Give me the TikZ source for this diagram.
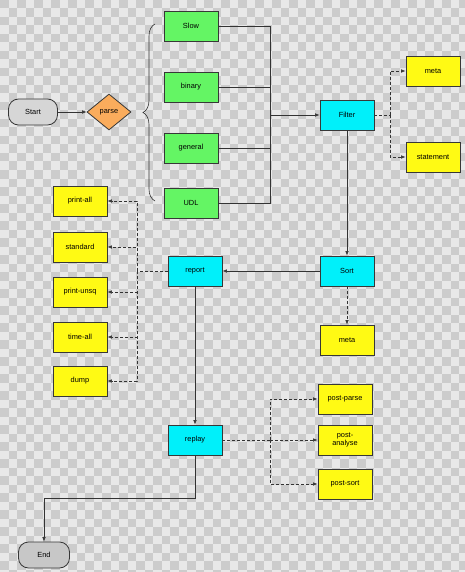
\documentclass[tikz,border=0pt]{standalone}
\usepackage{fontspec}
\setmainfont{Liberation Sans}
\usetikzlibrary{arrows.meta,shapes.geometric,decorations.pathreplacing}
\definecolor{boxgreen}{RGB}{100,245,100}
\definecolor{boxcyan}{RGB}{0,240,250}
\definecolor{boxyellow}{RGB}{255,250,20}
\definecolor{boxorange}{RGB}{250,172,92}
\definecolor{chklight}{RGB}{232,232,232}
\definecolor{chkdark}{RGB}{204,204,204}
\definecolor{edge}{RGB}{55,55,55}
\tikzset{
  box/.style={draw=edge,line width=0.8pt,minimum width=54pt,minimum height=30pt,
    inner sep=0pt,font=\fontsize{7.4}{8.4}\selectfont,align=center},
  greenbox/.style={box,fill=boxgreen},
  cyanbox/.style={box,fill=boxcyan},
  yellowbox/.style={box,fill=boxyellow},
  terminal/.style={box,rounded corners=10pt,minimum height=26pt},
  link/.style={draw=black!80,line width=0.6pt},
  arr/.style={-{Latex[length=4.5pt,width=3.5pt]}},
  dsh/.style={dash pattern=on 3pt off 2pt}
}
\begin{document}
\begin{tikzpicture}[x=1pt,y=-1pt]
  \useasboundingbox (0,0) rectangle (465,572);
  % background checkers
  \fill[chklight] (0,0) rectangle (465,572);
  \begin{scope}
    \clip (0,0) rectangle (465,572);
    \foreach \i in {0,...,54} {
      \pgfmathtruncatemacro\off{mod(\i,2)}
      \foreach \j in {0,2,...,68}
        \fill[chkdark] (\i*8.5,{(\j+\off)*8.5}) rectangle ++(8.5,8.5);
    }
  \end{scope}

  % nodes
  \node[terminal,fill=black!16,minimum width=49pt] (start) at (33,112) {Start};
  \node[draw=edge,line width=0.8pt,fill=boxorange,diamond,aspect=1.25,
    minimum width=44pt,minimum height=36pt,inner sep=0pt,
    font=\fontsize{7.4}{8.4}\selectfont] (parse) at (109,112) {parse};

  \node[greenbox] (slow) at (191,26) {Slow};
  \node[greenbox] (binary) at (191,87) {binary};
  \node[greenbox] (general) at (191,148) {general};
  \node[greenbox] (udl) at (191,203) {UDL};

  \node[cyanbox] (filter) at (347,115) {Filter};
  \node[yellowbox] (fmeta) at (433,71) {meta};
  \node[yellowbox] (statement) at (433,157) {statement};

  \node[cyanbox] (sort) at (347,271) {Sort};
  \node[yellowbox] (smeta) at (347,340) {meta};

  \node[cyanbox] (report) at (195,271) {report};
  \node[yellowbox] (printall) at (80,201) {print-all};
  \node[yellowbox] (standard) at (80,247) {standard};
  \node[yellowbox] (printunsq) at (80,292) {print-unsq};
  \node[yellowbox] (timeall) at (80,337) {time-all};
  \node[yellowbox] (dump) at (80,381) {dump};

  \node[cyanbox] (replay) at (195,440) {replay};
  \node[yellowbox] (postparse) at (345,399) {post-parse};
  \node[yellowbox] (postanalyse) at (345,440) {post-\\analyse};
  \node[yellowbox] (postsort) at (345,484) {post-sort};

  \node[terminal,fill=black!22,minimum width=51pt] (end) at (44,555) {End};

  \coordinate (join) at (270,115);
  \coordinate (fsplit) at (390,115);
  \coordinate (rsplit) at (137,271);
  \coordinate (psplit) at (270,440);

  % connectors
  \draw[link,arr] (start) -- (parse);
  \draw[link,decorate,decoration={brace,amplitude=12pt}] (155,201) -- (155,24);
  \draw[link] (slow.east) -| (join);
  \draw[link] (udl.east) -| (join);
  \draw[link] (binary.east) -- (binary.east -| join);
  \draw[link] (general.east) -- (general.east -| join);
  \draw[link,arr] (join) -- (filter);

  \draw[link,dsh] (filter) -- (fsplit);
  \draw[link,dsh,arr] (fsplit) |- (fmeta);
  \draw[link,dsh,arr] (fsplit) |- (statement);

  \draw[link,arr] (filter) -- (sort);
  \draw[link,dsh,arr] (sort) -- (smeta);
  \draw[link,arr] (sort) -- (report);

  \draw[link,dsh] (report) -- (rsplit);
  \foreach \n in {printall,standard,printunsq,timeall,dump}
    \draw[link,dsh,arr] (rsplit) |- (\n.east);

  \draw[link,arr] (report) -- (replay);

  \draw[link,dsh] (replay) -- (psplit);
  \draw[link,dsh,arr] (psplit) |- (postparse);
  \draw[link,dsh,arr] (psplit) -- (postanalyse);
  \draw[link,dsh,arr] (psplit) |- (postsort);

  \draw[link,arr] (replay.south) -- ++(0,43) -| (end);
\end{tikzpicture}
\end{document}
